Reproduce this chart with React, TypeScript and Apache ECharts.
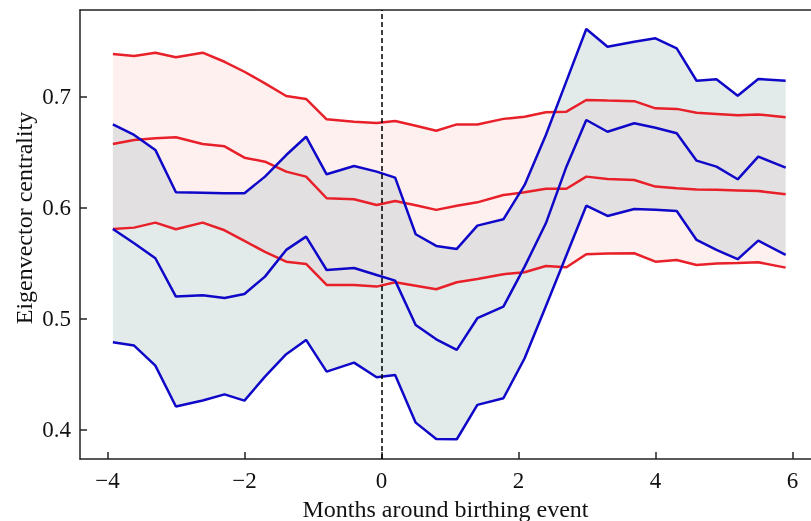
import React, { useEffect, useRef } from "react";
import * as echarts from "echarts";

const months = [-3.92, -3.61, -3.3, -3.0, -2.61, -2.29, -2.0, -1.7, -1.39, -1.1, -0.8, -0.4, -0.07, 0.2, 0.5, 0.8, 1.1, 1.4, 1.78, 2.09, 2.4, 2.7, 2.99, 3.3, 3.69, 4.0, 4.31, 4.6, 4.89, 5.2, 5.5, 5.9];

const redUpper = [0.7385, 0.7367, 0.7397, 0.7355, 0.7397, 0.7315, 0.7225, 0.712, 0.7006, 0.698, 0.6796, 0.6775, 0.6762, 0.678, 0.6738, 0.6693, 0.675, 0.675, 0.68, 0.682, 0.686, 0.6865, 0.697, 0.6965, 0.696, 0.6895, 0.689, 0.6855, 0.6845, 0.6832, 0.684, 0.6814];
const redMid = [0.6573, 0.661, 0.6625, 0.6634, 0.6573, 0.6552, 0.645, 0.6414, 0.6324, 0.6279, 0.6084, 0.6075, 0.6023, 0.606, 0.602, 0.5979, 0.6017, 0.6047, 0.6113, 0.6138, 0.617, 0.617, 0.6279, 0.6258, 0.6249, 0.6189, 0.6175, 0.6163, 0.616, 0.6155, 0.615, 0.612];
const redLower = [0.5807, 0.5819, 0.5864, 0.5804, 0.5864, 0.5795, 0.57, 0.56, 0.5512, 0.5491, 0.5302, 0.5302, 0.5287, 0.5326, 0.5295, 0.5263, 0.5326, 0.5355, 0.5399, 0.5417, 0.5473, 0.5461, 0.5579, 0.5585, 0.5588, 0.5512, 0.5527, 0.5482, 0.5495, 0.55, 0.5507, 0.5458];

const blueUpper = [0.675, 0.6655, 0.652, 0.6138, 0.6133, 0.6129, 0.6129, 0.6279, 0.6474, 0.6639, 0.63, 0.6375, 0.6324, 0.627, 0.5759, 0.5654, 0.5627, 0.5837, 0.5894, 0.6204, 0.6655, 0.714, 0.761, 0.745, 0.7496, 0.7527, 0.7436, 0.7144, 0.7157, 0.7009, 0.716, 0.7144];
const blueMid = [0.5807, 0.5678, 0.5543, 0.5197, 0.5209, 0.5185, 0.5221, 0.5377, 0.5618, 0.5738, 0.5437, 0.5455, 0.5392, 0.5341, 0.4941, 0.4812, 0.4716, 0.5002, 0.5106, 0.5467, 0.5858, 0.6369, 0.679, 0.6684, 0.676, 0.672, 0.667, 0.6423, 0.6369, 0.6255, 0.646, 0.636];
const blueLower = [0.4785, 0.4755, 0.4574, 0.4205, 0.426, 0.4315, 0.4259, 0.4475, 0.4677, 0.4806, 0.452, 0.4601, 0.447, 0.449, 0.406, 0.3913, 0.391, 0.422, 0.428, 0.4641, 0.511, 0.557, 0.6017, 0.5924, 0.5987, 0.598, 0.5969, 0.5708, 0.5618, 0.5534, 0.5702, 0.5573];

const xTicks = [-4, -2, 0, 2, 4, 6];
const yTicks = [0.4, 0.5, 0.6, 0.7];

const RED = "#e8202a";
const BLUE = "#1008c8";
const AXIS = "#222";
const FONT = "Liberation Serif";

function band(upper: number[], lower: number[], fill: string, z: number) {
  return {
    type: "custom",
    silent: true,
    z,
    data: [[months[0], upper[0]]],
    encode: { x: 0, y: 1 },
    renderItem: (params: any, api: any) => {
      if (params.dataIndex !== 0) return null;
      const pts: number[][] = [];
      for (let i = 0; i < months.length; i++) pts.push(api.coord([months[i], upper[i]]));
      for (let i = months.length - 1; i >= 0; i--) pts.push(api.coord([months[i], lower[i]]));
      return { type: "polygon", shape: { points: pts }, style: { fill } };
    },
  };
}

function line(vals: number[], color: string, z: number, extra: any = {}) {
  return {
    type: "line",
    data: months.map((m, i) => [m, vals[i]]),
    showSymbol: false,
    symbol: "none",
    z,
    lineStyle: { color, width: 2.5 },
    ...extra,
  };
}

export default function App() {
  const ref = useRef<HTMLDivElement>(null);
  useEffect(() => {
    if (!ref.current) return;
    const chart = echarts.init(ref.current, null, { renderer: "svg" });
    const fmt = (v: number) => String(v).replace("-", "\u2212");
    chart.setOption({
      animation: false,
      grid: { left: 80, top: 10, right: 0, bottom: 62, containLabel: false, outerBoundsMode: "none" },
      xAxis: [
        {
          type: "value",
          min: -4.4,
          max: 6.27,
          splitLine: { show: false },
          axisLine: { show: true, onZero: false, lineStyle: { color: AXIS, width: 1.5 } },
          axisTick: { show: true, inside: true, length: 7, customValues: xTicks, lineStyle: { color: AXIS, width: 1.5 } },
          axisLabel: { customValues: xTicks, formatter: fmt, fontSize: 23, fontFamily: FONT, color: "#111", margin: 10 },
          name: "Months around birthing event",
          nameLocation: "middle",
          nameGap: 35,
          nameTextStyle: { fontSize: 24, fontFamily: FONT, color: "#111" },
        },
        {
          type: "value",
          position: "top",
          min: -4.4,
          max: 6.27,
          splitLine: { show: false },
          axisLine: { show: true, onZero: false, lineStyle: { color: AXIS, width: 1.5 } },
          axisTick: { show: false },
          axisLabel: { show: false },
        },
      ],
      yAxis: {
        type: "value",
        min: 0.3732,
        max: 0.7782,
        splitLine: { show: false },
        axisLine: { show: true, onZero: false, lineStyle: { color: AXIS, width: 1.5 } },
        axisTick: { show: true, inside: true, length: 7, customValues: yTicks, lineStyle: { color: AXIS, width: 1.5 } },
        axisLabel: { customValues: yTicks, formatter: (v: number) => v.toFixed(1), fontSize: 23, fontFamily: FONT, color: "#111", margin: 9 },
      },
      graphic: [
        {
          type: "text",
          x: 24,
          y: 218,
          rotation: Math.PI / 2,
          style: {
            text: "Eigenvector centrality",
            fontSize: 24,
            fontFamily: FONT,
            fill: "#111",
            align: "center",
            verticalAlign: "middle",
          },
        },
      ],
      series: [
        band(redUpper, redLower, "#fff0f0", 1),
        band(blueUpper, blueLower, "rgba(167,191,191,0.33)", 2),
        line(redUpper, RED, 3, {
          markLine: {
            silent: true,
            symbol: ["none", "none"],
            label: { show: false },
            lineStyle: { color: "#000", type: [5, 3], width: 1.5 },
            data: [{ xAxis: 0 }],
          },
        }),
        line(redMid, RED, 3),
        line(redLower, RED, 3),
        line(blueUpper, BLUE, 4),
        line(blueMid, BLUE, 4),
        line(blueLower, BLUE, 4),
      ],
    });
    return () => chart.dispose();
  }, []);
  return <div ref={ref} style={{ position: "fixed", left: 0, top: 0, width: 811, height: 521 }} />;
}
